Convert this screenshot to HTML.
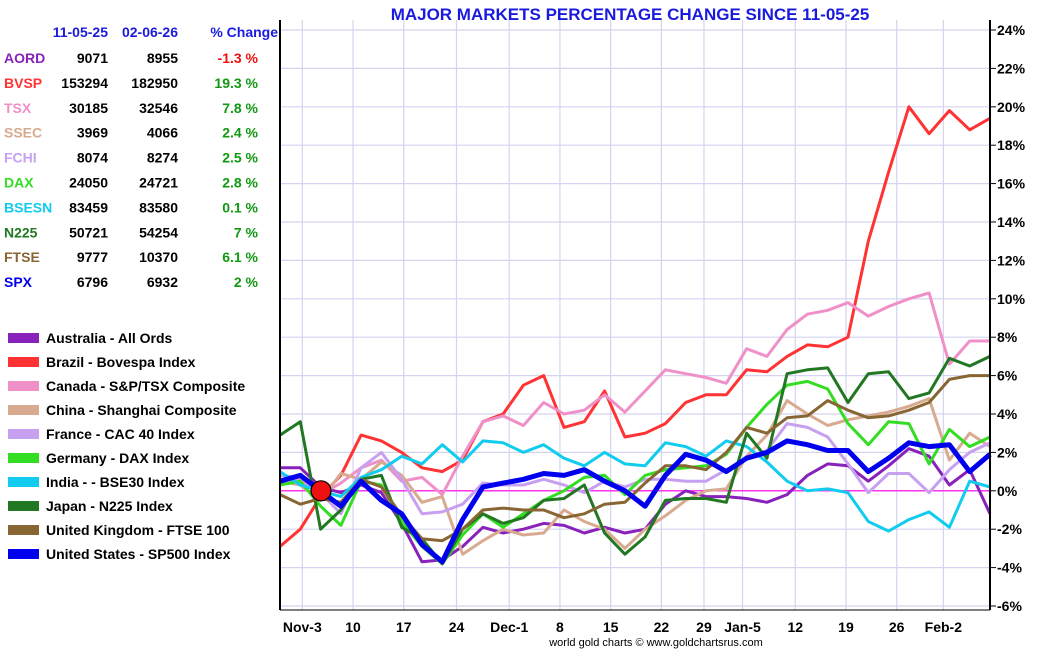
<!DOCTYPE html>
<html><head><meta charset="utf-8">
<style>
body{margin:0;background:#fff;width:1050px;height:650px;overflow:hidden;font-family:"Liberation Sans",sans-serif;}
svg text{font-family:"Liberation Sans",sans-serif;font-weight:bold;}
</style></head><body>
<svg id="chart" width="1050" height="650">
<text x="630" y="20" text-anchor="middle" font-size="17" fill="#1a1adf">MAJOR MARKETS PERCENTAGE CHANGE SINCE 11-05-25</text>
<text x="656" y="646" text-anchor="middle" font-size="11" font-weight="normal" fill="#000" style="font-weight:normal">world gold charts © www.goldchartsrus.com</text>
<g id="grid"></g><g id="lines"></g><g id="axes"></g><g id="table"></g><g id="legend"></g>
</svg>
<script>
const NS="http://www.w3.org/2000/svg";
const seriesNames=["AORD","BVSP","TSX","SSEC","FCHI","DAX","BSESN","N225","FTSE","SPX"];
const seriesColors=["#8822bb","#ff3333","#f090c8","#d8aa90","#c8a0f0","#33dd22","#11ccee","#227722","#886633","#0000ee"];
const legendLabels=["Australia - All Ords","Brazil - Bovespa Index","Canada - S&P/TSX Composite","China - Shanghai Composite","France - CAC 40 Index","Germany - DAX Index","India -  - BSE30 Index","Japan - N225 Index","United Kingdom - FTSE 100","United States - SP500 Index"];
const startVals=["9071","153294","30185","3969","8074","24050","83459","50721","9777","6796"];
const endVals=["8955","182950","32546","4066","8274","24721","83580","54254","10370","6932"];
const pctChange=["-1.3 %","19.3 %","7.8 %","2.4 %","2.5 %","2.8 %","0.1 %","7 %","6.1 %","2 %"];
const yTicks=[-6,-4,-2,0,2,4,6,8,10,12,14,16,18,20,22,24];
const xLabels=["Nov-3","10","17","24","Dec-1","8","15","22","29","Jan-5","12","19","26","Feb-2"];
const xLabelIdx=[1.1,3.6,6.1,8.7,11.3,13.8,16.3,18.8,20.9,22.8,25.4,27.9,30.4,32.7];
const aord=[1.2,1.2,0.2,-0.1,0.3,-0.1,-1.7,-3.7,-3.6,-2.9,-1.9,-2.2,-2.0,-1.7,-1.8,-2.2,-1.9,-2.2,-2.0,-0.7,0,-0.3,-0.3,-0.4,-0.6,-0.2,0.8,1.4,1.3,0.5,1.3,2.2,1.8,0.3,1.1,-1.2];
const bvsp=[-2.9,-2.0,-0.3,0.8,2.9,2.6,2.0,1.2,1.0,1.6,3.6,4.0,5.5,6.0,3.3,3.6,5.2,2.8,3.0,3.5,4.6,5.0,5.0,6.3,6.2,7.0,7.6,7.5,8.0,13.0,16.6,20.0,18.6,19.8,18.8,19.4];
const tsx=[0.3,0.6,-0.2,0.4,1.2,1.6,0.5,0.7,-0.2,1.8,3.6,3.9,3.4,4.6,4.0,4.2,5.0,4.1,5.2,6.3,6.1,5.9,5.6,7.4,7.0,8.4,9.2,9.4,9.8,9.1,9.6,10.0,10.3,6.6,7.8,7.8];
const ssec=[0.5,0.3,-0.5,0.9,0.6,1.5,0.8,-0.6,-0.3,-3.3,-2.6,-2.0,-2.3,-2.2,-1.0,-1.6,-2.0,-3.0,-2.0,-1.3,-0.5,0,0.1,1.8,2.9,4.7,4.0,3.4,3.7,3.9,4.1,4.4,4.8,1.6,3.0,2.3];
const fchi=[0.8,0.7,-0.1,-1.2,1.2,2.0,0.6,-1.2,-1.1,-0.7,0.4,0.3,0.3,0.6,0.3,-0.1,0.5,0.2,0.6,0.6,0.5,0.5,1.1,1.7,2.1,3.5,3.3,2.8,1.4,-0.1,0.9,0.9,-0.1,1.1,2.0,2.5];
const dax=[0.3,0.5,-0.8,-1.8,0.5,0.3,-1.6,-2.9,-3.8,-2.3,-1.2,-1.9,-1.2,-0.5,0,0.7,0.8,-0.2,0.8,1.1,1.2,1.3,1.9,3.3,4.5,5.5,5.7,5.3,3.5,2.4,3.6,3.5,1.4,3.2,2.3,2.8];
const bsesn=[1.0,0.3,0,-0.3,0.7,1.1,1.8,1.4,2.4,1.5,2.6,2.5,2.0,2.4,1.7,1.3,2.0,1.4,1.3,2.5,2.3,1.8,2.6,2.3,1.5,0.5,0,0.1,-0.1,-1.6,-2.1,-1.5,-1.1,-1.9,0.5,0.2];
const n225=[2.9,3.6,-2.0,-1.0,0.6,0.8,-1.9,-2.5,-3.8,-2.0,-1.2,-1.7,-1.4,-0.5,-0.4,0.3,-2.2,-3.3,-2.4,-0.5,-0.4,-0.4,-0.6,3.0,1.7,6.1,6.3,6.4,4.6,6.1,6.2,4.8,5.1,6.9,6.5,7.0];
const ftse=[-0.2,-0.7,-0.4,-0.6,0.6,0.2,-1.3,-2.5,-2.6,-2.0,-1.0,-0.9,-1.0,-1.0,-1.4,-1.2,-0.7,-0.6,0.4,1.3,1.3,1.1,2.0,3.3,3.0,3.8,3.9,4.7,4.2,3.8,3.9,4.2,4.6,5.8,6.0,6.0];
const spx=[0.5,0.8,0,-0.8,0.5,-0.5,-1.2,-2.8,-3.7,-1.5,0.2,0.4,0.6,0.9,0.8,1.1,0.5,0,-0.8,0.8,1.9,1.6,1.0,1.7,2.0,2.6,2.4,2.1,2.1,1.0,1.7,2.5,2.3,2.4,1.0,1.9];
const allSeries=[aord,bvsp,tsx,ssec,fchi,dax,bsesn,n225,ftse,spx];
const X0=280,X1=990,Y0=610,YTOP=20;
function xScale(i){return X0+i*(X1-X0)/35;}
function yScale(v){return 490.8-v*19.2;}
function mk(tag,attrs,parent){const e=document.createElementNS(NS,tag);for(const k in attrs)e.setAttribute(k,attrs[k]);parent.appendChild(e);return e;}
const grid=document.getElementById('grid'),lines=document.getElementById('lines'),axes=document.getElementById('axes');
yTicks.forEach(v=>{
  const y=yScale(v);
  const g=mk('line',{x1:X0,x2:X1,y1:y,y2:y,stroke:v===0?'#ff33ee':'#d4d4f0','stroke-width':v===0?1.5:1.2},v===0?lines:grid);
  
  
  const t=mk('line',{x1:X1,x2:X1+6,y1:y,y2:y,stroke:'#000'},axes);
  
  
  const tx=mk('text',{x:X1+7,y:y+5,'font-size':14,fill:'#000'},axes);
  tx.textContent=v+'%';
  
  
});
xLabels.forEach((l,k)=>{
  const x=xScale(xLabelIdx[k]);
  const g=mk('line',{x1:x,x2:x,y1:YTOP,y2:Y0,stroke:'#d4d4f0','stroke-width':1.2},grid);
  
  
  const t=mk('text',{x:x,y:632,'font-size':14,'text-anchor':'middle',fill:'#000'},axes);
  t.textContent=l;
  
  
});
let a=mk('line',{x1:X0,x2:X0,y1:YTOP,y2:Y0,stroke:'#000','stroke-width':2},axes);


a=mk('line',{x1:X1,x2:X1,y1:YTOP,y2:Y0,stroke:'#000','stroke-width':2},axes);


a=mk('line',{x1:X0,x2:X1,y1:Y0,y2:Y0,stroke:'#000','stroke-width':1},axes);


allSeries.forEach((s,k)=>{
  const d=s.map((v,i)=>(i?'L':'M')+xScale(i).toFixed(1)+','+yScale(v).toFixed(1)).join('');
  const p=mk('path',{d:d,fill:'none',stroke:seriesColors[k],'stroke-width':k===9?5:3,'stroke-linejoin':'round'},lines);
  
  
});
const m=mk('circle',{cx:321,cy:490.8,r:10,fill:'#ee1111',stroke:'#000','stroke-width':1.2},lines);


const tbl=document.getElementById('table');
[["11-05-25",108],["02-06-26",178],["% Change",278]].forEach(h=>{
  const t=mk('text',{x:h[1],y:37,'font-size':14,'text-anchor':'end',fill:'#1a1adf'},tbl);
  t.textContent=h[0];
  
  
});
seriesNames.forEach((n,k)=>{
  const y=63+k*24.9;
  let t=mk('text',{x:4,y:y,'font-size':14,fill:seriesColors[k]},tbl);
  t.textContent=n;
  
  
  t=mk('text',{x:108,y:y,'font-size':14,'text-anchor':'end',fill:'#000'},tbl);
  t.textContent=startVals[k];
  
  
  t=mk('text',{x:178,y:y,'font-size':14,'text-anchor':'end',fill:'#000'},tbl);
  t.textContent=endVals[k];
  
  
  t=mk('text',{x:258,y:y,'font-size':14,'text-anchor':'end',fill:pctChange[k][0]==='-'?'#ee1111':'#119911'},tbl);
  t.textContent=pctChange[k];
  
  
});
const lg=document.getElementById('legend');
legendLabels.forEach((l,k)=>{
  const y=338+k*24;
  const r=mk('rect',{x:8,y:y-5,width:31,height:10,fill:seriesColors[k]},lg);
  
  
  const t=mk('text',{x:46,y:y+5,'font-size':14,fill:'#000'},lg);
  t.textContent=l;
  
  
});
</script>
</body></html>
